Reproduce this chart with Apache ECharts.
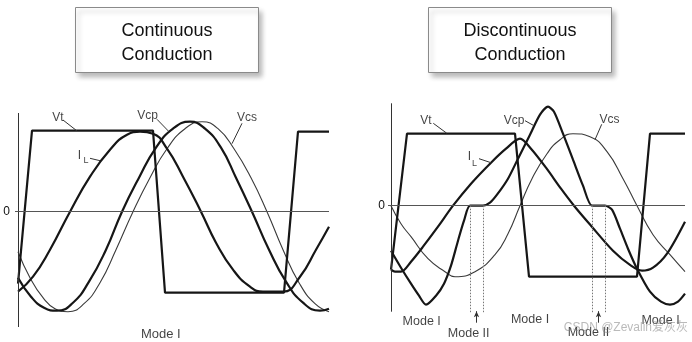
<!DOCTYPE html>
<html><head><meta charset="utf-8">
<script src="https://cdn.jsdelivr.net/npm/echarts@6/dist/echarts.min.js"></script>
<style>html,body{margin:0;padding:0;background:#fff}#c{width:692px;height:342px}</style>
</head><body><div id="c"></div>
<script>
// ===== Continuous conduction (left panel) : [time, amplitude] =====
const ccVt  = [[0,-72],[14,81],[135,81],[147,-81],[266,-81],[280,80],[311,80]];
const ccIL  = [[0,-80],[15,-65],[32,-38],[52,0],[72,35],[92,62],[109,77],[122,80],[135,78],[149,63],[165,35],[183,0],[198,-31],[215,-58],[232,-75],[245,-80],[265,-80],[282,-65],[298,-38],[311,-15]];
const ccVcp = [[0,-66],[13,-85],[26,-96],[39,-99],[55,-91],[71,-70],[88,-38],[104,0],[121,34],[138,64],[155,83],[172,90],[187,83],[203,64],[218,34],[234,0],[251,-38],[268,-70],[285,-91],[302,-99],[311,-97]];
const ccVcs = [[0,-40],[12,-66],[25,-86],[37,-97],[50,-100],[66,-92],[82,-71],[98,-38],[115,0],[132,34],[149,63],[167,83],[184,90],[200,83],[216,63],[233,34],[249,0],[265,-38],[281,-71],[297,-92],[311,-100]];

// ===== Discontinuous conduction (right panel) =====
const dcVt  = [[0,-64],[16,72],[124,72],[138,-71],[246,-71],[259,72],[294,72]];
const dcIL  = [[0,-64],[4,-66],[10,-66],[20,-56],[32,-41],[47,-21],[62,0],[80,22],[100,43],[115,57],[129,67],[140,57],[155,38],[170,17],[183,0],[200,-20],[222,-45],[240,-60],[251,-65],[262,-62],[276,-48],[294,-16]];
const dcVcp = [[0,-45],[10,-62],[20,-78],[28,-90],[35,-99],[45,-90],[53,-78],[60,-60],[67,-35],[73,-15],[79,0],[92,0],[99,3],[106,11],[117,27],[127,47],[139,71],[149,91],[157,99],[163,94],[172,72],[182,46],[192,20],[201,0],[214,0],[221,-4],[229,-23],[237,-43],[246,-63],[259,-86],[270,-96],[279,-99],[287,-96],[294,-88]];
const dcVcs = [[0,0],[10,-18],[20,-31],[37,-53],[54,-66],[64,-71],[84,-66],[104,-49],[117,-28],[129,0],[141,27],[156,52],[169,66],[182,72],[199,69],[216,54],[232,27],[246,0],[262,-29],[279,-49],[294,-66]];

// mode boundaries (time) in discontinuous panel and arrow times
const dcModeEdges = [79, 92, 201, 214];
const dcModeArrows = [85.5, 207.5];

// titles
const titles = ['Continuous\nConduction', 'Discontinuous\nConduction'];

// curve / mode annotations: [text, time, amplitude]
const ccLabels = [['Vt',40,93.7],['Vcp',129.5,95.7],['Vcs',229,93.7],['I',61.3,55.7],['L',68,50.7],['Mode I',142.8,-122.6]];
const dcLabels = [['Vt',35,84.7],['Vcp',123,84.7],['Vcs',218.5,86],['I',78.3,49],['L',83.5,42.4],
                  ['Mode I',30.7,-116],['Mode II',77.7,-127.6],['Mode I',139,-114.3],['Mode II',197.5,-127.3],['Mode I',269.5,-115.3]];
// leader lines: [t1,y1,t2,y2]
const ccLeaders = [[45,91.7,58.7,81],[139,92.4,151,80],[224,88.4,214,68],[72,53.4,82,51]];
const dcLeaders = [[42.3,82.4,55.7,72.5],[134,85,143,80],[210.7,81.4,204,66],[88,47,100,43]];

// axis extents (time range, amplitude range of the vertical axis)
const ccAxis = {t:[-3,311], y:[-115.3,98.7]};
const dcAxis = {t:[-3,294], y:[-106,102.4]};

const FONT = 'Liberation Sans, Arial, sans-serif';
const INK = '#161616';

function curve(data, gi, thin, smooth) {
  return {
    type:'line', data, xAxisIndex:gi, yAxisIndex:gi, symbol:'none', silent:true,
    smooth: smooth, z: thin ? 2 : 3,
    lineStyle: thin ? {color:'#3a3a3a', width:1.1} : {color:INK, width:2.2}
  };
}

function fontSizeFor(txt, gi) {
  if (txt === 'L') return 9;
  if (txt === 'I') return 12;
  if (txt.indexOf('Mode') === 0) return gi === 0 ? 13 : 12.5;
  return 12;
}

function annotations(gi, labels, leaders, axis, extra) {
  const ml = [];
  ml.push([{coord:[0, axis.y[0]], lineStyle:{color:'#333', width:1, type:'solid'}}, {coord:[0, axis.y[1]]}]);
  ml.push([{coord:[axis.t[0], 0], lineStyle:{color:'#555', width:1, type:'solid'},
            label:{show:true, position:'start', formatter:'0', distance: gi === 0 ? 5 : 3, color:'#111', fontSize:12, fontFamily:FONT}},
           {coord:[axis.t[1], 0]}]);
  leaders.forEach(l => ml.push([{coord:[l[0], l[1]], lineStyle:{color:'#333', width:1, type:'solid'}}, {coord:[l[2], l[3]]}]));
  (extra || []).forEach(e => ml.push(e));
  return {
    type:'scatter', xAxisIndex:gi, yAxisIndex:gi, symbolSize:1, silent:true, z:5,
    itemStyle:{color:'rgba(0,0,0,0)'},
    data: labels.map(l => ({name:l[0], value:[l[1], l[2]], label:{fontSize:fontSizeFor(l[0], gi)}})),
    label:{show:true, position:'inside', formatter:'{b}', color:'#111', fontFamily:FONT},
    markLine:{silent:true, animation:false, symbol:['none','none'], label:{show:false}, data: ml}
  };
}

const dcExtra = [];
dcModeEdges.forEach(t => dcExtra.push([{coord:[t, 0], lineStyle:{color:'#777', width:1, type:[1.5,1.5]}}, {coord:[t, -107.5]}]));
dcModeArrows.forEach(t => dcExtra.push([{coord:[t, -117], lineStyle:{color:'#333', width:1, type:'solid'}},
                                        {coord:[t, -105.5], symbol:'arrow', symbolSize:[4,6]}]));

const titleBase = {
  top:7, textAlign:'center', borderColor:'#8a8a8a', borderWidth:1, backgroundColor:'#fff',
  shadowBlur:5, shadowColor:'rgba(0,0,0,0.28)', shadowOffsetX:3, shadowOffsetY:4,
  textStyle:{fontSize:18, lineHeight:24, fontWeight:'normal', color:'#111', fontFamily:FONT}
};

const option = {
  animation:false,
  backgroundColor:'#fff',
  title:[
    Object.assign({}, titleBase, {text:titles[0], left:121, padding:[12,46,6,46]}),
    Object.assign({}, titleBase, {text:titles[1], left:485, padding:[12,35,6,35]}),
    {text:'CSDN @Zevalin爱灰灰', right:4, top:322, padding:0,
     textStyle:{fontSize:12, fontWeight:'normal', color:'rgba(130,130,130,0.55)', fontFamily:'Liberation Sans, Noto Sans CJK SC, sans-serif'}}
  ],
  grid:[
    {left:15, right:363, top:100, bottom:0},
    {left:388, right:7, top:100, bottom:0}
  ],
  xAxis:[
    {type:'value', gridIndex:0, min:ccAxis.t[0], max:ccAxis.t[1], show:false},
    {type:'value', gridIndex:1, min:dcAxis.t[0], max:dcAxis.t[1], show:false}
  ],
  yAxis:[
    {type:'value', gridIndex:0, min:-130.3, max:111.7, show:false},
    {type:'value', gridIndex:1, min:-136.3, max:105.7, show:false}
  ],
  series:[
    curve(ccVt, 0, false, false),
    curve(ccIL, 0, false, 0.5),
    curve(ccVcp, 0, false, 0.5),
    curve(ccVcs, 0, true, 0.5),
    annotations(0, ccLabels, ccLeaders, ccAxis),
    curve(dcVt, 1, false, false),
    curve(dcIL, 1, false, 0.3),
    curve(dcVcp, 1, false, 0.25),
    curve(dcVcs, 1, true, 0.5),
    annotations(1, dcLabels, dcLeaders, dcAxis, dcExtra)
  ]
};

const chart = echarts.init(document.getElementById('c'), null, {renderer:'canvas'});
chart.setOption(option);
</script>
</body></html>
